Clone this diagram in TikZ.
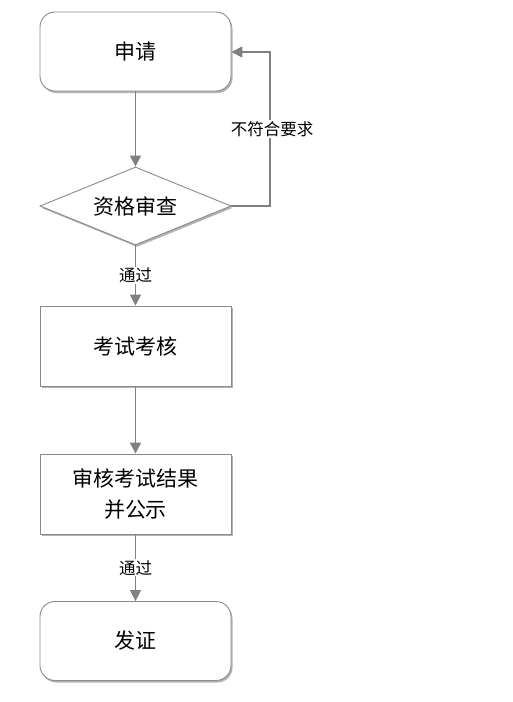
\documentclass[tikz,border=0pt]{standalone}
\usepackage{fontspec}
\setmainfont{Noto Sans CJK SC}
\usetikzlibrary{shapes.geometric,arrows.meta,shadows}
\definecolor{linegray}{HTML}{808080}
\definecolor{edgegray}{HTML}{8A8A8A}
\begin{document}
\begin{tikzpicture}[x=1pt,y=-1pt,
  base/.style={draw=edgegray,line width=0.9pt,fill=white,font=\fontsize{21}{31}\selectfont,align=center,
    drop shadow={shadow xshift=1.5pt,shadow yshift=-2pt,opacity=0.3,fill=black}},
  term/.style={base,rectangle,rounded corners=15pt,minimum width=191pt,minimum height=79pt,inner sep=0pt},
  proc/.style={base,rectangle,minimum width=191pt,minimum height=80pt,inner sep=0pt},
  dec/.style={base,diamond,minimum width=191pt,minimum height=78pt,inner sep=0pt,aspect=2.45},
  conn/.style={draw=linegray,line width=1.5pt,-{Triangle[length=11pt,width=11pt]}},
  lbl/.style={fill=white,inner sep=1pt,font=\fontsize{16.5}{18}\selectfont,text=black}]
\useasboundingbox (0,0) rectangle (513,702);
\node[term] (apply) at (135.5,51.5) {申请};
\node[dec] (check) at (135.5,206) {资格审查};
\node[proc] (exam) at (135.5,346) {考试考核};
\node[proc] (review) at (135.5,494) {审核考试结果\\并公示};
\node[term] (cert) at (135.5,641) {发证};
\coordinate (r1) at (270,206);
\coordinate (r2) at (270,52);
\draw[conn] (apply) -- (check);
\draw[conn] (check.east) -- (r1) -- node[lbl,pos=0.5,xshift=2pt] {不符合要求} (r2) -- (apply.east |- r2);
\draw[conn] (check) -- node[lbl,pos=0.5] {通过} (exam);
\draw[conn] (exam) -- (review);
\draw[conn] (review) -- node[lbl,pos=0.5] {通过} (cert);
\end{tikzpicture}
\end{document}
